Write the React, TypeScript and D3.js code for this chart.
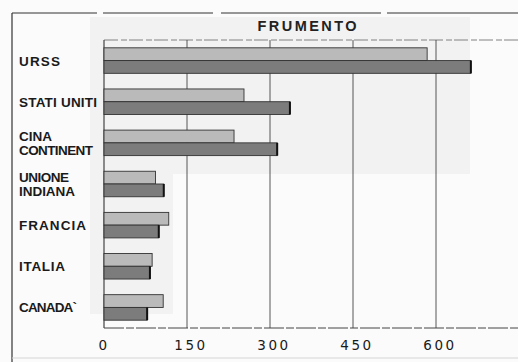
import React from "react";
import * as d3 from "d3";

const categories = ["URSS", "STATI UNITI", "CINA CONTINENT", "UNIONE INDIANA", "FRANCIA", "ITALIA", "CANADA`"];
const labelLines = [["URSS"], ["STATI UNITI"], ["CINA", "CONTINENT"], ["UNIONE", "INDIANA"], ["FRANCIA"], ["ITALIA"], ["CANADA`"]];
const labelWidths = [[41], [78], [33, 74], [50, 56], [67], [46], [58]];
const seriesLight = [584, 253, 235, 93, 117, 87, 107];
const seriesDark = [663, 336, 313, 108, 99, 83, 78];
const ticks = [0, 150, 300, 450, 600];
const title = "FRUMENTO";

export default function App() {
  const W = 518, H = 362;
  const x = d3.scaleLinear().domain([0, 600]).range([104, 436]);
  const y = d3.scaleBand<string>().domain(categories).range([40, 328]).paddingInner(0.38).paddingOuter(0.19);
  const bh = y.bandwidth() / 2;
  const font = "'DejaVu Sans', sans-serif";
  const lib = "'Liberation Sans', Arial, sans-serif";
  return (
    <svg width={W} height={H} style={{ position: "fixed", left: 0, top: 0, background: "#fbfbfb" }}>
      <rect x={0} y={0} width={W} height={H} fill="#fbfbfb" />
      <rect x={90} y={17} width={380} height={157} fill="#f2f2f2" />
      <rect x={90} y={174} width={83} height={140} fill="#f2f2f2" />
      {/* frame */}
      <line x1={12} x2={W} y1={13} y2={13} stroke="#333" strokeWidth={1} strokeDasharray="85 6 110 8 160 6 200" />
      <line x1={12} x2={12} y1={13} y2={H} stroke="#333" strokeWidth={1.2} />
      <line x1={12} x2={W} y1={358} y2={358} stroke="#d5d5d5" strokeWidth={1} />
      <text x={307} y={31} textAnchor="middle" fontFamily={lib} fontSize={14.5} fontWeight="bold" textLength={99} lengthAdjust="spacing" fill="#222">{title}</text>
      {/* grid */}
      <line x1={104} x2={W} y1={40} y2={40} stroke="#666" strokeWidth={0.8} strokeDasharray="14 3 6 2" />
      <line x1={104} x2={W} y1={328} y2={328} stroke="#444" strokeWidth={1} strokeDasharray="20 2 8 2" />
      {ticks.map((t) => (
        <line key={"g" + t} x1={x(t)} x2={x(t)} y1={40} y2={328} stroke="#444" strokeWidth={t === 0 ? 1.2 : 0.9} />
      ))}
      {/* bars */}
      {categories.map((c, i) => {
        const y0 = y(c) as number;
        return (
          <g key={c}>
            <rect x={x(0)} y={y0} width={x(seriesLight[i]) - x(0)} height={bh} fill="#bababa" stroke="#333" strokeWidth={0.9} />
            <rect x={x(0)} y={y0 + bh} width={x(seriesDark[i]) - x(0)} height={bh} fill="#7c7c7c" stroke="#333" strokeWidth={0.9} />
            <line x1={x(seriesDark[i])} x2={x(seriesDark[i])} y1={y0 + bh} y2={y0 + 2 * bh} stroke="#111" strokeWidth={2} />
          </g>
        );
      })}
      {/* category labels */}
      {categories.map((c, i) => {
        const cy = (y(c) as number) + y.bandwidth() / 2;
        const lines = labelLines[i];
        return (
          <g key={"l" + c}>
            {lines.map((ln, k) => (
              <text key={k} x={19} y={cy + 5 + (k - (lines.length - 1) / 2) * 14} fontFamily={lib} fontSize={13.5} fontWeight="bold" fill="#1a1a1a" textLength={labelWidths[i][k]} lengthAdjust="spacing">{ln}</text>
            ))}
          </g>
        );
      })}
      {/* tick labels */}
      {ticks.map((t) => (
        <text key={"t" + t} x={x(t) + (t === 0 ? 0 : 4)} y={350} textAnchor="middle" fontFamily={font} fontSize={13.5} letterSpacing={2.5} fill="#1a1a1a">{t}</text>
      ))}
    </svg>
  );
}
